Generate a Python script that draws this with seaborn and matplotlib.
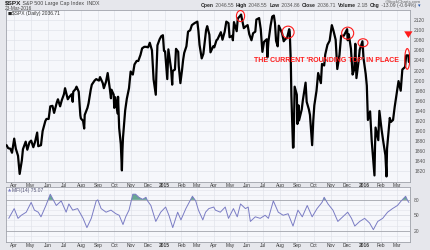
import matplotlib
matplotlib.use("Agg")
import matplotlib.pyplot as plt
import matplotlib.dates as mdates
from matplotlib.patches import Ellipse
import seaborn as sns
import pandas as pd
import numpy as np

# ---------------- data ----------------
price_dates = [
    "2014-03-18", "2014-03-21", "2014-03-25", "2014-03-28", "2014-04-01", "2014-04-04", "2014-04-08",
    "2014-04-11", "2014-04-15", "2014-04-17", "2014-04-22", "2014-04-25", "2014-04-29", "2014-05-02",
    "2014-05-06", "2014-05-09", "2014-05-13", "2014-05-15", "2014-05-20", "2014-05-23", "2014-05-28",
    "2014-05-30", "2014-06-03", "2014-06-06", "2014-06-10", "2014-06-13", "2014-06-18", "2014-06-20",
    "2014-06-24", "2014-06-27", "2014-07-01", "2014-07-03", "2014-07-08", "2014-07-11", "2014-07-15",
    "2014-07-17", "2014-07-18", "2014-07-22", "2014-07-24", "2014-07-28", "2014-07-31", "2014-08-01",
    "2014-08-05", "2014-08-07", "2014-08-08", "2014-08-13", "2014-08-15", "2014-08-19", "2014-08-21",
    "2014-08-26", "2014-08-29", "2014-09-03", "2014-09-05", "2014-09-10", "2014-09-12", "2014-09-16",
    "2014-09-19", "2014-09-23", "2014-09-25", "2014-09-26", "2014-09-30", "2014-10-01", "2014-10-03",
    "2014-10-07", "2014-10-08", "2014-10-10", "2014-10-13", "2014-10-15", "2014-10-16", "2014-10-17",
    "2014-10-21", "2014-10-24", "2014-10-28", "2014-10-31", "2014-11-04", "2014-11-07", "2014-11-11",
    "2014-11-14", "2014-11-18", "2014-11-21", "2014-11-25", "2014-11-28", "2014-12-02", "2014-12-05",
    "2014-12-09", "2014-12-12", "2014-12-16", "2014-12-17", "2014-12-19", "2014-12-23", "2014-12-26",
    "2014-12-29", "2014-12-31", "2015-01-02", "2015-01-06", "2015-01-08", "2015-01-13", "2015-01-15",
    "2015-01-16", "2015-01-20", "2015-01-22", "2015-01-26", "2015-01-27", "2015-01-30", "2015-02-02",
    "2015-02-04", "2015-02-06", "2015-02-10", "2015-02-13", "2015-02-17", "2015-02-20", "2015-02-25",
    "2015-03-02", "2015-03-04", "2015-03-06", "2015-03-10", "2015-03-13", "2015-03-16", "2015-03-18",
    "2015-03-20", "2015-03-24", "2015-03-26", "2015-03-31", "2015-04-02", "2015-04-06", "2015-04-08",
    "2015-04-14", "2015-04-17", "2015-04-21", "2015-04-24", "2015-04-28", "2015-04-30", "2015-05-05",
    "2015-05-06", "2015-05-08", "2015-05-13", "2015-05-15", "2015-05-19", "2015-05-21", "2015-05-26",
    "2015-05-29", "2015-06-02", "2015-06-05", "2015-06-09", "2015-06-12", "2015-06-16", "2015-06-18",
    "2015-06-23", "2015-06-26", "2015-06-29", "2015-07-02", "2015-07-07", "2015-07-08", "2015-07-10",
    "2015-07-14", "2015-07-17", "2015-07-20", "2015-07-22", "2015-07-24", "2015-07-27", "2015-07-29",
    "2015-07-31", "2015-08-04", "2015-08-07", "2015-08-11", "2015-08-13", "2015-08-17", "2015-08-18",
    "2015-08-20", "2015-08-21", "2015-08-24", "2015-08-25", "2015-08-27", "2015-08-31", "2015-09-01",
    "2015-09-03", "2015-09-04", "2015-09-09", "2015-09-11", "2015-09-16", "2015-09-18", "2015-09-22",
    "2015-09-24", "2015-09-28", "2015-09-30", "2015-10-02", "2015-10-06", "2015-10-09", "2015-10-14",
    "2015-10-16", "2015-10-20", "2015-10-22", "2015-10-26", "2015-10-30", "2015-11-03", "2015-11-06",
    "2015-11-10", "2015-11-13", "2015-11-17", "2015-11-20", "2015-11-25", "2015-12-01", "2015-12-02",
    "2015-12-04", "2015-12-08", "2015-12-11", "2015-12-14", "2015-12-16", "2015-12-18", "2015-12-22",
    "2015-12-24", "2015-12-29", "2015-12-31", "2016-01-04", "2016-01-06", "2016-01-08", "2016-01-12",
    "2016-01-15", "2016-01-20", "2016-01-21", "2016-01-22", "2016-01-27", "2016-01-29", "2016-02-02",
    "2016-02-05", "2016-02-09", "2016-02-11", "2016-02-12", "2016-02-17", "2016-02-19", "2016-02-23",
    "2016-02-26", "2016-03-01", "2016-03-04", "2016-03-08", "2016-03-11", "2016-03-16", "2016-03-18",
    "2016-03-22", "2016-03-23",
]
price_values = [
    1872, 1866, 1865, 1857, 1885, 1865, 1851,
    1815, 1842, 1864, 1879, 1863, 1878, 1881,
    1868, 1878, 1897, 1870, 1872, 1900, 1920,
    1924, 1924, 1949, 1950, 1936, 1957, 1963,
    1949, 1961, 1973, 1985, 1963, 1968, 1973,
    1958, 1978, 1983, 1988, 1978, 1931, 1925,
    1920, 1905, 1932, 1946, 1955, 1982, 1992,
    2000, 2003, 2000, 2007, 1995, 1985, 1998,
    2015, 1983, 1965, 1982, 1972, 1946, 1967,
    1935, 1968, 1906, 1874, 1822, 1862, 1887,
    1941, 1964, 1985, 2018, 2012, 2032, 2039,
    2039, 2051, 2064, 2067, 2067, 2066, 2075,
    2060, 2002, 1972, 2012, 2070, 2082, 2088,
    2090, 2059, 2058, 2003, 2062, 2023, 1992,
    2019, 2022, 2063, 2057, 2029, 1995, 2021,
    2041, 2055, 2068, 2097, 2100, 2110, 2114,
    2117, 2098, 2071, 2044, 2053, 2081, 2100,
    2108, 2091, 2056, 2068, 2066, 2080, 2082,
    2096, 2081, 2097, 2117, 2114, 2086, 2089,
    2080, 2116, 2098, 2123, 2128, 2131, 2104,
    2107, 2110, 2092, 2080, 2094, 2097, 2121,
    2124, 2102, 2057, 2077, 2082, 2046, 2077,
    2109, 2127, 2129, 2114, 2079, 2068, 2109,
    2104, 2094, 2078, 2084, 2084, 2102, 2097,
    2036, 1971, 1867, 1868, 1988, 1972, 1914,
    1951, 1921, 1943, 1961, 1996, 1958, 1943,
    1932, 1872, 1920, 1951, 1980, 2015, 1995,
    2033, 2030, 2052, 2071, 2079, 2110, 2099,
    2081, 2023, 2051, 2089, 2089, 2102, 2080,
    2092, 2063, 2012, 2022, 2073, 2005, 2039,
    2061, 2078, 2044, 2013, 1990, 1922, 1939,
    1880, 1812, 1869, 1907, 1882, 1940, 1903,
    1880, 1852, 1810, 1865, 1926, 1918, 1922,
    1948, 1978, 1999, 1980, 2022, 2027, 2050,
    2050, 2037,
]

mfi_dates = [
    "2014-03-22", "2014-04-01", "2014-04-08", "2014-04-14", "2014-04-23", "2014-05-02", "2014-05-08",
    "2014-05-15", "2014-05-20", "2014-05-29", "2014-06-06", "2014-06-11", "2014-06-17", "2014-06-26",
    "2014-07-05", "2014-07-10", "2014-07-17", "2014-07-26", "2014-08-05", "2014-08-12", "2014-08-20",
    "2014-08-29", "2014-09-01", "2014-09-07", "2014-09-16", "2014-09-25", "2014-10-04", "2014-10-10",
    "2014-10-17", "2014-10-22", "2014-10-28", "2014-11-04", "2014-11-09", "2014-11-15", "2014-11-22",
    "2014-11-28", "2014-12-01", "2014-12-07", "2014-12-16", "2014-12-25", "2015-01-03", "2015-01-09",
    "2015-01-16", "2015-01-25", "2015-01-31", "2015-02-09", "2015-02-21", "2015-02-27", "2015-03-04",
    "2015-03-12", "2015-03-17", "2015-03-23", "2015-04-01", "2015-04-04", "2015-04-13", "2015-04-22",
    "2015-04-28", "2015-05-07", "2015-05-14", "2015-05-20", "2015-05-29", "2015-06-03", "2015-06-07",
    "2015-06-16", "2015-06-25", "2015-07-04", "2015-07-10", "2015-07-19", "2015-07-28", "2015-08-06",
    "2015-08-15", "2015-08-24", "2015-09-02", "2015-09-10", "2015-09-19", "2015-09-28", "2015-10-07",
    "2015-10-16", "2015-10-20", "2015-10-27", "2015-11-05", "2015-11-14", "2015-11-23", "2015-12-02",
    "2015-12-09", "2015-12-15", "2015-12-24", "2016-01-02", "2016-01-11", "2016-01-18", "2016-01-26",
    "2016-02-04", "2016-02-13", "2016-02-22", "2016-03-02", "2016-03-09", "2016-03-17", "2016-03-21",
    "2016-03-23",
]
mfi_values = [
    44, 63, 44, 50, 56, 75, 60,
    56, 47, 69, 91, 81, 69, 78,
    56, 72, 60, 63, 44, 26, 44,
    78, 80, 63, 56, 60, 53, 50,
    32, 47, 60, 91, 91, 85, 81,
    85, 78, 69, 38, 56, 66, 50,
    26, 56, 41, 63, 87, 78, 60,
    41, 56, 63, 66, 60, 56, 66,
    44, 63, 47, 72, 63, 66, 38,
    47, 44, 50, 44, 78, 56, 50,
    53, 29, 60, 47, 69, 47, 63,
    75, 85, 72, 60, 38, 47, 56,
    44, 29, 38, 44, 35, 22, 38,
    44, 56, 63, 69, 78, 87, 78,
    75,
]

month_starts = [
    "2014-04-01", "2014-05-01", "2014-06-01", "2014-07-01", "2014-08-01", "2014-09-01",
    "2014-10-01", "2014-11-01", "2014-12-01", "2015-01-01", "2015-02-01", "2015-03-01",
    "2015-04-01", "2015-05-01", "2015-06-01", "2015-07-01", "2015-08-01", "2015-09-01",
    "2015-10-01", "2015-11-01", "2015-12-01", "2016-01-01", "2016-02-01", "2016-03-01",
]
month_labels = [
    "Apr", "May", "Jun", "Jul", "Aug", "Sep", "Oct", "Nov", "Dec", "2015", "Feb", "Mar",
    "Apr", "May", "Jun", "Jul", "Aug", "Sep", "Oct", "Nov", "Dec", "2016", "Feb", "Mar",
]
price_ticks = [1820, 1840, 1860, 1880, 1900, 1920, 1940, 1960, 1980, 2000,
               2020, 2040, 2060, 2080, 2100, 2120]
mfi_ticks = [20, 50, 80]

# ---------------- style ----------------
sns.set_theme(style="white")
plt.rcParams["font.family"] = ["Liberation Sans", "DejaVu Sans"]

OUTER = "#e6e7ec"
PANEL = "#f6f7fb"
GRID = "#e1e3ea"
SPINE = "#9fa2aa"
TXT = "#3a3a3a"

W, H = 430, 250
fig = plt.figure(figsize=(W / 100, H / 100), dpi=100, facecolor=OUTER)

def frac(x0, y0, x1, y1):
    return [x0 / W, 1 - y1 / H, (x1 - x0) / W, (y1 - y0) / H]

ax = fig.add_axes(frac(6, 10, 410, 182))
ax2 = fig.add_axes(frac(6, 187, 410, 242))

df = pd.DataFrame({"date": pd.to_datetime(price_dates), "price": price_values})
mf = pd.DataFrame({"date": pd.to_datetime(mfi_dates), "mfi": mfi_values})
ms = pd.to_datetime(month_starts)

xlim = (pd.Timestamp("2014-03-17"), pd.Timestamp("2016-03-25"))

for a in (ax, ax2):
    a.set_facecolor(PANEL)
    a.set_xlim(*xlim)
    for s in a.spines.values():
        s.set_color(SPINE)
        s.set_linewidth(0.6)
    for d in ms:
        a.axvline(d, color=GRID, lw=0.5, zorder=0)
    a.set_xticks(ms)
    a.set_xticklabels(month_labels)
    a.tick_params(axis="x", length=0, pad=1.0, labelsize=3.5, colors=TXT)
    for lab in a.get_xticklabels():
        if lab.get_text() in ("2015", "2016"):
            lab.set_fontweight("bold")
    a.yaxis.tick_right()
    a.tick_params(axis="y", length=0, pad=3, labelsize=3.6, colors="#555555")

# main price panel
ax.set_ylim(1799, 2140)
ax.set_yticks(price_ticks)
for t in price_ticks:
    ax.axhline(t, color=GRID, lw=0.5, zorder=0)
sns.lineplot(data=df, x="date", y="price", ax=ax, color="black", lw=1.6, zorder=3)
ax.set_xlabel("")
ax.set_ylabel("")

# annotations (red)
RED = "#ff1a1a"
circles = [("2015-05-20", 2128, 15, 22), ("2015-08-15", 2096, 22, 24),
           ("2015-12-02", 2094, 22, 24), ("2015-12-30", 2075, 18, 16),
           ("2016-03-20", 2043, 9, 41)]
for d, p, w, h in circles:
    e = Ellipse((mdates.date2num(pd.Timestamp(d)), p), w, h, fill=False,
                edgecolor=RED, lw=0.8, zorder=5)
    ax.add_patch(e)
ax.annotate("", xy=(mdates.date2num(pd.Timestamp("2016-03-22")), 2079),
            xytext=(mdates.date2num(pd.Timestamp("2016-03-22")), 2093),
            arrowprops=dict(arrowstyle="simple,head_width=0.5,head_length=0.4,tail_width=0.25",
                            color=RED, lw=0), annotation_clip=False, zorder=6)
fig.text(254 / W, 1 - 61 / H, "THE CURRENT 'ROUNDING TOP' IN PLACE", color=RED,
         fontsize=5.0, fontweight="bold", va="center", ha="left")

# legend-like label in main panel
fig.text(8 / W, 1 - 13.5 / H, "\u25a0", color="#222222", fontsize=3.2, va="center",
         family=["DejaVu Sans"])
fig.text(12 / W, 1 - 13.5 / H, "$SPX (Daily) 2036.71", color="#333333", fontsize=3.6, va="center")

# MFI panel
ax2.set_ylim(-2, 105)
ax2.set_yticks(mfi_ticks)
for t in (10, 30, 40, 60, 70, 90, 100):
    ax2.axhline(t, color=GRID, lw=0.4, zorder=0)
ax2.axhline(50, color="#d2d4dc", lw=0.5, zorder=0)
ax2.axhline(80, color="#a2a4ac", lw=0.6, zorder=1)
ax2.axhline(20, color="#a2a4ac", lw=0.6, zorder=1)
mv = np.array(mfi_values, dtype=float)
ax2.fill_between(mf["date"], mv, 80, where=mv > 80, interpolate=True,
                 color="#5a9e88", alpha=0.9, lw=0, zorder=2)
sns.lineplot(data=mf, x="date", y="mfi", ax=ax2, color="#7a7cc4", lw=0.7, zorder=3)
ax2.set_xlabel("")
ax2.set_ylabel("")
fig.text(8 / W, 1 - 190.5 / H, "\u25b2", color="#7a7cc4", fontsize=3.0, va="center",
         family=["DejaVu Sans"])
fig.text(12 / W, 1 - 190.5 / H, "MFI(14) 75.07", color="#555577", fontsize=3.6, va="center")

# header
t0 = fig.text(5 / W, 1 - 3 / H, "$SPX", fontsize=4.6, fontweight="bold", color="#222222", va="center")
ax.annotate(" S&P 500 Large Cap Index  INDX", xy=(1, 0), xycoords=t0, fontsize=3.8,
            color="#444444", va="bottom", annotation_clip=False)
fig.text(5 / W, 1 - 8.5 / H, "23-Mar-2016", fontsize=3.4, color="#444444", va="center")
fig.text(421 / W, 1 - 1.8 / H, "\u00a9StockCharts.com", fontsize=3.2, color="#666666",
         va="center", ha="right")

parts = [("Open", True), (" 2046.55  ", False), ("High", True), (" 2048.55  ", False),
         ("Low", True), (" 2034.86  ", False), ("Close", True), (" 2036.71  ", False),
         ("Volume", True), (" 2.1B  ", False), ("Chg", True), (" -13.09 (-0.64%) ", False),
         ("\u25be", True)]
prev = fig.text(201 / W, 1 - 5.5 / H, parts[0][0], fontsize=3.6, fontweight="bold",
                color="#222222", va="center")
for txt, bold in parts[1:]:
    prev = ax.annotate(txt, xy=(1, 0), xycoords=prev, fontsize=3.6,
                       fontweight="bold" if bold else "normal",
                       color="#2255aa" if txt == "\u25be" else ("#222222" if bold else "#555555"),
                       va="bottom", annotation_clip=False)

fig.savefig("out.png", dpi=100, facecolor=OUTER)
